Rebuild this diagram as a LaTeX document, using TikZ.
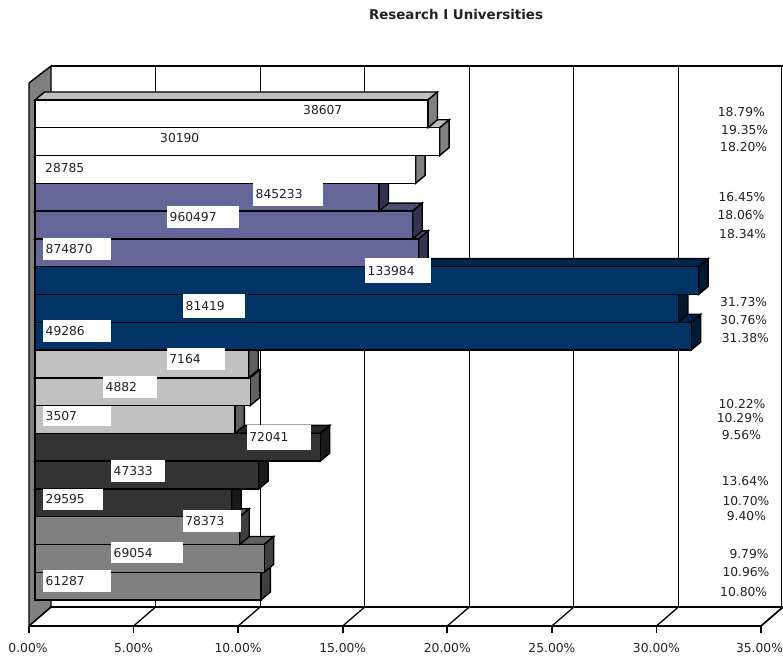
\documentclass[tikz,border=0pt]{standalone}
\usepackage{fontspec}
\setmainfont{DejaVu Sans}
\definecolor{fA}{HTML}{FFFFFF}\definecolor{tA}{HTML}{C0C0C0}\definecolor{sA}{HTML}{808080}
\definecolor{fB}{HTML}{666699}\definecolor{tB}{HTML}{4D4D73}\definecolor{sB}{HTML}{33334D}
\definecolor{fC}{HTML}{003366}\definecolor{tC}{HTML}{00264D}\definecolor{sC}{HTML}{001A33}
\definecolor{fD}{HTML}{C0C0C0}\definecolor{tD}{HTML}{909090}\definecolor{sD}{HTML}{606060}
\definecolor{fE}{HTML}{333333}\definecolor{tE}{HTML}{262626}\definecolor{sE}{HTML}{1A1A1A}
\definecolor{fF}{HTML}{808080}\definecolor{tF}{HTML}{606060}\definecolor{sF}{HTML}{404040}
\definecolor{wallgray}{HTML}{808080}
\definecolor{txt}{HTML}{222222}
\tikzset{
  outl/.style={draw=black, line width=1.4bp, line join=miter},
  grid/.style={draw=black, line width=0.9bp},
  axisln/.style={draw=black, line width=1.6bp},
  lbl/.style={fill=white, inner xsep=2.5bp, inner ysep=0pt, anchor=north west, align=left, text=txt,
              font=\fontsize{12.3bp}{14bp}\selectfont},
  plain/.style={inner sep=0pt, anchor=west, text=txt, font=\fontsize{12.3bp}{14bp}\selectfont},
  pct/.style={inner sep=0pt, anchor=west, text=txt, font=\fontsize{12.3bp}{14bp}\selectfont},
  tick/.style={inner sep=0pt, anchor=center, text=txt, font=\fontsize{12.3bp}{14bp}\selectfont},
  ttl/.style={inner sep=0pt, anchor=center, text=txt, font=\bfseries\fontsize{13.4bp}{15bp}\selectfont}
}
\newcommand{\labbox}[7]{% name, x1, y1, x2, y2, text
  \pgfmathsetmacro\lw{#4-#2-5}\pgfmathsetmacro\lh{#5-#3}%
  \node[lbl, text width=\lw bp, minimum height=\lh bp] (#1) at (#2,#3) {#6};}
\begin{document}
\begin{tikzpicture}[x=1bp,y=-1bp]
\useasboundingbox (0,0) rectangle (783,658);
% title
\node[ttl] (title) at (456,15) {Research I Universities};
% back wall
\fill[white] (51,66) rectangle (783,607);
\foreach \k in {1,...,6}{
  \pgfmathsetmacro\gx{51+104.57*\k}
  \draw[grid] (\gx,66) -- (\gx,607);
}
\draw[grid] (781.5,66) -- (781.5,607);
\draw[axisln] (51,66) -- (783,66);
% left wall
\filldraw[fill=wallgray, outl] (29,83) -- (51,66) -- (51,607) -- (29,626) -- cycle;
% floor
\draw[axisln] (51,607) -- (783,607);
\draw[axisln] (29,626) -- (761,626);
\draw[axisln] (761,626) -- (783,607);
\foreach \k in {0,...,7}{
  \pgfmathsetmacro\tx{29+104.57*\k}
  \draw[axisln] (\tx,626) -- (\tx,633);
  \draw[grid, line width=1.3bp] (\tx,626) -- (\tx+22,607);
}
% bars (bottom to top)
\foreach \i/\v/\c in {17/10.80/F,16/10.96/F,15/9.79/F,14/9.40/E,13/10.70/E,12/13.64/E,
  11/9.56/D,10/10.29/D,9/10.22/D,8/31.38/C,7/30.76/C,6/31.73/C,5/18.34/B,4/18.06/B,3/16.45/B,
  2/18.20/A,1/19.35/A,0/18.79/A}{
  \pgfmathsetmacro\t{100+27.78*\i}
  \pgfmathsetmacro\b{\t+27.78}
  \pgfmathsetmacro\e{35+\v*20.914}
  \filldraw[fill=t\c, outl] (35,\t) -- (44.5,\t-8) -- (\e+9.5,\t-8) -- (\e,\t) -- cycle;
  \filldraw[fill=s\c, outl] (\e,\t) -- (\e+9.5,\t-8) -- (\e+9.5,\b-8) -- (\e,\b) -- cycle;
  \filldraw[fill=f\c, outl] (35,\t) rectangle (\e,\b);
}
% value labels
\node[plain] (v1) at (303,110) {38607};
\node[plain] (v2) at (160,137.7) {30190};
\node[plain] (v3) at (45,167.7) {28785};
\labbox{v4}{253}{182}{323}{206}{845233}{}
\labbox{v5}{167}{205.7}{239}{227.7}{960497}{}
\labbox{v6}{43}{237.7}{111}{259.5}{874870}{}
\labbox{v7}{365}{257.7}{431}{283}{133984}{}
\labbox{v8}{183}{294}{245}{317.7}{81419}{}
\labbox{v9}{43}{320}{111}{341.7}{49286}{}
\labbox{v10}{166.7}{347.7}{225}{370}{7164}{}
\labbox{v11}{103}{376}{156.7}{397.7}{4882}{}
\labbox{v12}{43}{405.7}{111}{426}{3507}{}
\labbox{v13}{246.7}{425}{310.7}{449.3}{72041}{}
\labbox{v14}{111}{460}{165}{482}{47333}{}
\labbox{v15}{43}{488.3}{103}{510}{29595}{}
\labbox{v16}{182.7}{510}{240.7}{531.7}{78373}{}
\labbox{v17}{111}{542}{182.7}{563}{69054}{}
\labbox{v18}{43}{570}{111}{591.7}{61287}{}
% percentage labels
\node[pct] (p1) at (717.7,112.3) {18.79\%};
\node[pct] (p2) at (721,130) {19.35\%};
\node[pct] (p3) at (720,146.7) {18.20\%};
\node[pct] (p4) at (718.3,197.3) {16.45\%};
\node[pct] (p5) at (717.3,215.3) {18.06\%};
\node[pct] (p6) at (719,234) {18.34\%};
\node[pct] (p7) at (720,302.3) {31.73\%};
\node[pct] (p8) at (720,320) {30.76\%};
\node[pct] (p9) at (721.7,338.3) {31.38\%};
\node[pct] (p10) at (718.3,404) {10.22\%};
\node[pct] (p11) at (716.7,417.7) {10.29\%};
\node[pct] (p12) at (721.7,435.3) {9.56\%};
\node[pct] (p13) at (721.7,480.7) {13.64\%};
\node[pct] (p14) at (722.3,500.7) {10.70\%};
\node[pct] (p15) at (726.7,516) {9.40\%};
\node[pct] (p16) at (729.3,554.3) {9.79\%};
\node[pct] (p17) at (722.3,572) {10.96\%};
\node[pct] (p18) at (720,592.3) {10.80\%};
% axis tick labels
\node[tick] (a0) at (28,648.3) {0.00\%};
\node[tick] (a1) at (133.6,648.3) {5.00\%};
\node[tick] (a2) at (238.1,648.3) {10.00\%};
\node[tick] (a3) at (342.7,648.3) {15.00\%};
\node[tick] (a4) at (447.3,648.3) {20.00\%};
\node[tick] (a5) at (551.9,648.3) {25.00\%};
\node[tick] (a6) at (656.4,648.3) {30.00\%};
\node[tick] (a7) at (759.5,648.3) {35.00\%};
\end{tikzpicture}
\end{document}
